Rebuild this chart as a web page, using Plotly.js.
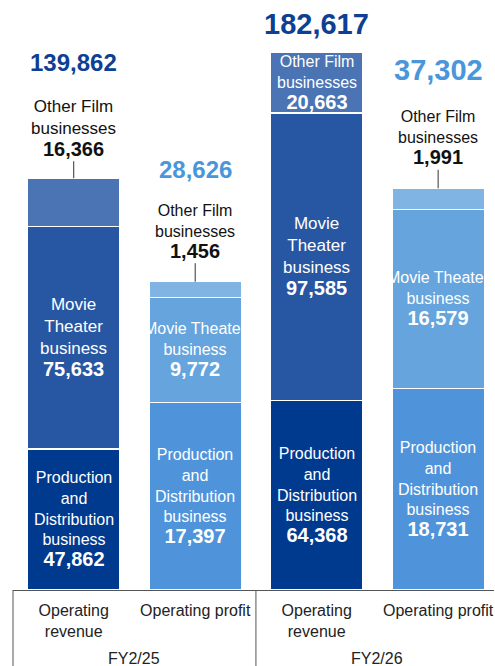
<!DOCTYPE html>
<html>
<head>
<meta charset="utf-8">
<script src="https://cdn.plot.ly/plotly-3.0.1.min.js"></script>
<style>
  html, body { margin: 0; padding: 0; background: #fff; }
  #chart { width: 495px; height: 666px; }
</style>
</head>
<body>
<div id="chart"></div>
<script>
// Segment results by fiscal year (million yen)
const periods = ['FY2/25', 'FY2/26'];
const measures = ['Operating<br>revenue', 'Operating profit'];

const revProduction = [47862, 64368];
const revTheater = [75633, 97585];
const revOther = [16366, 20663];
const revTotal = [139862, 182617];

const profProduction = [17397, 18731];
const profTheater = [9772, 16579];
const profOther = [1456, 1991];
const profTotal = [28626, 37302];

const FONT = 'Liberation Sans, Arial, sans-serif';
const fmt = v => v.toLocaleString('en-US');

// slot on the x axis: revenue then profit for each period
const revX = periods.map((p, i) => i * 2);
const profX = periods.map((p, i) => i * 2 + 1);

const revColors = ['#003A8F', '#2756A2', '#4A74B3'];
const profColors = ['#4F94DA', '#66A4DD', '#80B4E3'];
const BAR_W = 0.76;

function barTrace(x, y, color, axis) {
    return {
        type: 'bar', x: x, y: y, yaxis: axis, width: BAR_W,
        marker: { color: color, line: { color: '#ffffff', width: 1.5 } },
        hoverinfo: 'skip'
    };
}

const data = [
    barTrace(revX, revProduction, revColors[0], 'y'),
    barTrace(revX, revTheater, revColors[1], 'y'),
    barTrace(revX, revOther, revColors[2], 'y'),
    barTrace(profX, profProduction, profColors[0], 'y2'),
    barTrace(profX, profTheater, profColors[1], 'y2'),
    barTrace(profX, profOther, profColors[2], 'y2')
];

const num = v => '<span style="font-size:20px"><b>' + fmt(v) + '</b></span>';
const annotations = [];

function inside(x, yref, base, val, name, size) {
    annotations.push({
        x: x, y: base + val / 2, xref: 'x', yref: yref,
        text: name + '<br>' + num(val), showarrow: false,
        font: { family: FONT, size: size || 16, color: '#ffffff' }
    });
}
function outside(x, yref, top, val, size) {
    annotations.push({
        x: x, y: top, xref: 'x', yref: yref,
        text: 'Other Film<br>businesses<br>' + num(val),
        showarrow: true, arrowhead: 0, arrowwidth: 1, arrowcolor: '#333333',
        ax: 0, ay: -50, standoff: 0,
        font: { family: FONT, size: size || 16, color: '#111111' }
    });
}
function total(x, yref, val, color, size, shift) {
    annotations.push({
        x: x, y: val, xref: 'x', yref: yref, yanchor: 'middle', yshift: shift,
        text: '<b>' + fmt(val) + '</b>', showarrow: false,
        font: { family: FONT, size: size, color: color }
    });
}

periods.forEach((p, i) => {
    // revenue bar
    inside(revX[i], 'y', 0, revProduction[i], 'Production<br>and<br>Distribution<br>business');
    inside(revX[i], 'y', revProduction[i], revTheater[i], 'Movie<br>Theater<br>business', 17);
    // profit bar
    inside(profX[i], 'y2', 0, profProduction[i], 'Production<br>and<br>Distribution<br>business');
    inside(profX[i], 'y2', profProduction[i], profTheater[i], 'Movie Theater<br>business');
    outside(profX[i], 'y2', profProduction[i] + profTheater[i] + profOther[i], profOther[i]);
    total(profX[i], 'y2', profTotal[i], '#4A96DA', i === 0 ? 24 : 29, i === 0 ? 112 : 118);
});
// FY2/25 revenue: other label outside, FY2/26 revenue: inside the segment
outside(revX[0], 'y', revTotal[0], revOther[0], 17);
inside(revX[1], 'y', revProduction[1] + revTheater[1], revOther[1], 'Other Film<br>businesses');
total(revX[0], 'y', revTotal[0], '#0D3F94', 24, 116);
total(revX[1], 'y', revTotal[1], '#0D3F94', 29, 28);

// period labels under the axis
periods.forEach((p, i) => {
    annotations.push({
        x: i * 2 + 0.5, y: 0, xref: 'x', yref: 'paper', yanchor: 'middle', yshift: -68,
        text: p, showarrow: false,
        font: { family: FONT, size: 16, color: '#222222' }
    });
});

const layout = {
    width: 495, height: 666,
    margin: { l: 13, r: 1, t: 0, b: 76 },
    barmode: 'stack', showlegend: false,
    paper_bgcolor: '#ffffff', plot_bgcolor: '#ffffff',
    font: { family: FONT, size: 16, color: '#222222' },
    xaxis: {
        range: [-0.5, 3.46],
        tickvals: [0, 1, 2, 3],
        ticktext: [measures[0], measures[1], measures[0], measures[1]],
        ticks: '', showgrid: false, zeroline: false,
        showline: true, linecolor: '#555555', linewidth: 1,
        ticklabelstandoff: 6,
        tickfont: { family: FONT, size: 16, color: '#222222' }
    },
    yaxis: { range: [0, 200400], visible: false, fixedrange: true },
    yaxis2: { range: [0, 54780], overlaying: 'y', visible: false },
    shapes: [
        { type: 'line', xref: 'paper', yref: 'paper', x0: 0, x1: 0, y0: 0, y1: -0.14,
          line: { color: '#555555', width: 1 } },
        { type: 'line', xref: 'x', yref: 'paper', x0: 1.5, x1: 1.5, y0: 0, y1: -0.14,
          line: { color: '#555555', width: 1 } }
    ],
    annotations: annotations
};

Plotly.newPlot('chart', data, layout, { displayModeBar: false, staticPlot: true });
</script>
</body>
</html>
